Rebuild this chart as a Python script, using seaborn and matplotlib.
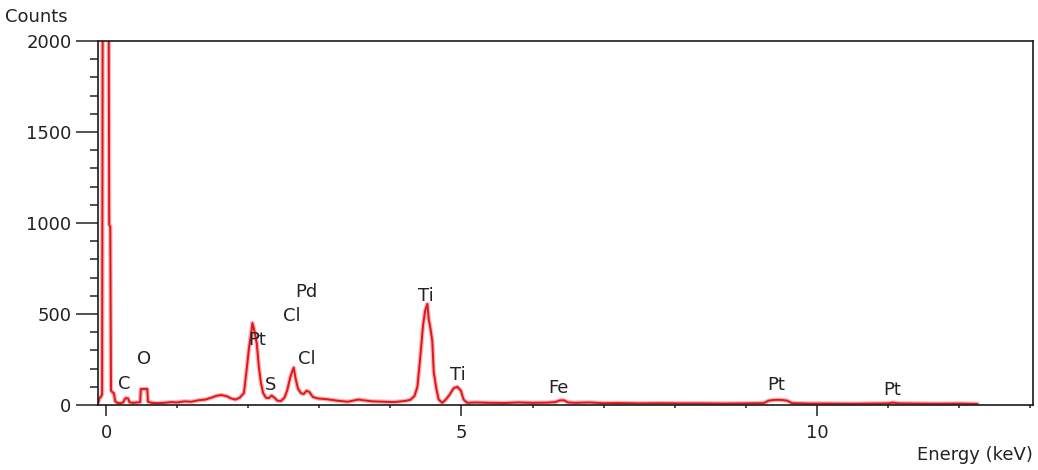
import matplotlib
matplotlib.use("Agg")
import matplotlib.pyplot as plt
import seaborn as sns
import pandas as pd
from matplotlib.ticker import MultipleLocator

# EDS spectrum: energy (keV) and counts
energy = [-0.11, -0.09, -0.07, -0.055, -0.045, 0.035, 0.045, 0.06, 0.07, 0.09, 0.11, 0.13,
          0.16, 0.20, 0.24, 0.26, 0.28, 0.31, 0.33, 0.38, 0.44, 0.48, 0.49, 0.58, 0.59, 0.64,
          0.72, 0.82, 0.92, 1.00, 1.10, 1.20, 1.30, 1.40, 1.48, 1.55, 1.62, 1.70, 1.76, 1.82,
          1.88, 1.94, 1.98, 2.01, 2.04, 2.06, 2.08, 2.10, 2.12, 2.15, 2.18, 2.21, 2.25, 2.29,
          2.33, 2.37, 2.41, 2.46, 2.51, 2.55, 2.59, 2.62, 2.64, 2.67, 2.70, 2.74, 2.78, 2.82,
          2.86, 2.91, 2.98, 3.10, 3.25, 3.40, 3.55, 3.62, 3.75, 3.90, 4.05, 4.20, 4.28, 4.34,
          4.38, 4.42, 4.46, 4.49, 4.52, 4.54, 4.56, 4.59, 4.61, 4.65, 4.68, 4.73, 4.78, 4.83,
          4.89, 4.94, 4.99, 5.03, 5.08, 5.20, 5.40, 5.60, 5.80, 6.00, 6.20, 6.32, 6.38, 6.44,
          6.50, 6.60, 6.80, 7.00, 7.20, 7.50, 7.80, 8.10, 8.40, 8.70, 9.00, 9.25, 9.32, 9.40,
          9.50, 9.58, 9.65, 9.90, 10.20, 10.50, 10.80, 11.00, 11.07, 11.15, 11.40, 11.70,
          12.00, 12.26]
counts = [12, 40, 45, 60, 2600, 2600, 990, 980, 80, 70, 65, 20,
          12, 10, 14, 30, 38, 36, 15, 12, 14, 16, 88, 88, 18, 12,
          10, 12, 16, 14, 20, 18, 26, 30, 40, 50, 55, 48, 36, 30,
          40, 66, 200, 310, 390, 450, 420, 380, 340, 210, 120, 66, 40, 38,
          52, 40, 24, 22, 40, 82, 150, 185, 205, 140, 90, 66, 60, 78,
          72, 44, 36, 32, 24, 18, 30, 26, 20, 18, 16, 22, 28, 50,
          100, 260, 440, 520, 555, 470, 430, 350, 180, 82, 30, 12, 30, 55,
          92, 100, 80, 30, 12, 14, 12, 11, 14, 12, 13, 16, 25, 26,
          14, 12, 14, 10, 11, 9, 10, 9, 9, 8, 9, 10, 24, 28,
          28, 24, 10, 8, 8, 7, 8, 9, 13, 9, 8, 7,
          8, 6]

# Element annotations: label, energy position, counts position
peak_labels = ["C", "O", "Pt", "S", "Cl", "Cl", "Pd", "Ti", "Ti", "Fe", "Pt", "Pt"]
label_x = [0.26, 0.53, 2.12, 2.31, 2.83, 2.62, 2.82, 4.50, 4.95, 6.37, 9.43, 11.06]
label_y = [118, 250, 355, 112, 255, 487, 623, 598, 165, 92, 108, 85]

x_ticks = [0, 5, 10]
y_ticks = [0, 500, 1000, 1500, 2000]

df = pd.DataFrame({"Energy": energy, "Counts": counts})

sns.set_style("white")
plt.rcParams["font.family"] = ["DejaVu Sans"]

fig = plt.figure(figsize=(10.38, 4.70), dpi=100)
ax = fig.add_axes([0.0944, 0.1383, 0.9008, 0.7745])

sns.lineplot(data=df, x="Energy", y="Counts", ax=ax, color="#f6b4b4",
             linewidth=3.2, estimator=None, sort=False)
sns.lineplot(data=df, x="Energy", y="Counts", ax=ax, color="#e0161c",
             linewidth=1.4, estimator=None, sort=False)

ax.set_xlim(-0.113, 13.04)
ax.set_ylim(0, 2000)
ax.set_xticks(x_ticks)
ax.set_yticks(y_ticks)
ax.xaxis.set_minor_locator(MultipleLocator(1))
ax.yaxis.set_minor_locator(MultipleLocator(100))
ax.set_xlabel("")
ax.set_ylabel("")

ax.tick_params(axis="y", which="major", direction="out", length=16, width=1.1,
               color="#222222", labelsize=13, pad=3, left=True, labelcolor="#222222")
ax.tick_params(axis="y", which="minor", direction="out", length=6, width=1.1,
               color="#222222", left=True)
ax.tick_params(axis="x", which="major", direction="out", length=8, width=1.1,
               color="#222222", labelsize=13, pad=6, bottom=True, labelcolor="#222222")
ax.tick_params(axis="x", which="minor", direction="out", length=2.5, width=1.1,
               color="#222222", bottom=True)

for side in ["left", "bottom", "top", "right"]:
    ax.spines[side].set_visible(True)
    ax.spines[side].set_color("#1a1a1a")
    ax.spines[side].set_linewidth(1.2)

for lab, lx, ly in zip(peak_labels, label_x, label_y):
    ax.text(lx, ly, lab, ha="center", va="center", fontsize=13, color="#222222")

fig.text(0.005, 0.963, "Counts", ha="left", va="center", fontsize=13, color="#222222")
fig.text(0.995, 0.032, "Energy (keV)", ha="right", va="center", fontsize=13, color="#222222")

fig.savefig("out.png", dpi=100, facecolor="white")
